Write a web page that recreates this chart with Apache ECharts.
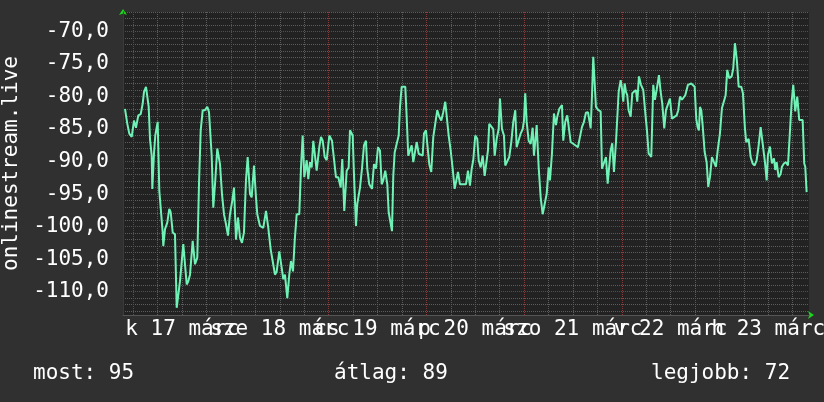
<!DOCTYPE html>
<html><head><meta charset="utf-8">
<script src="https://cdn.jsdelivr.net/npm/echarts@6/dist/echarts.min.js"></script>
<style>html,body{margin:0;padding:0;background:#303030;}#c{width:824px;height:402px;}</style>
</head><body><div id="c"></div>
<script>
// hours since 17 March 00:00, signal value
const samples = [
[-2.04,-81.9],[-1.47,-84.2],[-0.98,-85.7],[-0.39,-86.2],[0.17,-83.7],[0.66,-84.8],[1.23,-82.9],[1.82,-82.7],[2.31,-81.1],[2.63,-79.3],[3.12,-78.5],[3.44,-78.6],[3.78,-81.6],[4.10,-86.5],[4.52,-89.1],[4.67,-94.2],[5.08,-88.8],[5.40,-86.0],[5.99,-83.9],[6.39,-94.5],[6.80,-94.5],[7.22,-100.9],[7.37,-103.0],[7.79,-100.4],[8.35,-99.4],[8.84,-97.3],[9.19,-97.8],[9.68,-100.9],[10.24,-101.2],[10.66,-112.5],[11.05,-112.8],[11.47,-108.4],[12.28,-102.7],[12.70,-103.0],[13.12,-108.9],[13.51,-108.4],[13.93,-107.4],[14.59,-102.2],[15.16,-105.8],[15.72,-104.8],[16.14,-93.5],[16.56,-85.2],[17.05,-82.1],[17.61,-82.1],[18.18,-81.6],[18.60,-82.4],[19.26,-89.1],[19.65,-97.1],[20.14,-92.9],[20.63,-88.0],[21.05,-88.3],[21.30,-90.4],[21.79,-95.0],[22.28,-98.1],[22.77,-99.6],[23.26,-101.4],[23.75,-98.1],[24.32,-96.0],[24.74,-94.0],[25.23,-102.0],[25.72,-98.6],[26.21,-101.7],[26.70,-102.5],[27.19,-100.9],[27.68,-92.9],[28.10,-89.3],[28.67,-95.0],[29.08,-95.5],[29.65,-90.6],[30.14,-95.5],[30.46,-98.1],[31.12,-99.9],[31.93,-100.2],[32.60,-97.6],[33.16,-100.2],[33.75,-103.5],[34.24,-105.3],[34.81,-107.4],[35.23,-106.9],[35.86,-103.8],[36.45,-106.3],[36.85,-108.1],[37.26,-107.4],[37.83,-111.0],[38.32,-107.4],[38.74,-105.3],[39.23,-106.9],[39.65,-102.2],[40.14,-98.1],[40.78,-98.1],[41.20,-90.9],[41.61,-86.0],[42.01,-92.4],[42.60,-89.8],[42.99,-92.7],[43.41,-90.1],[43.82,-90.9],[44.22,-86.8],[45.05,-91.4],[45.69,-87.8],[46.11,-86.2],[46.53,-86.8],[47.02,-89.3],[47.51,-89.8],[48.15,-86.0],[48.81,-86.8],[49.30,-89.6],[49.79,-92.4],[50.36,-92.4],[50.95,-94.0],[51.34,-89.6],[51.83,-97.6],[52.42,-91.4],[52.91,-90.9],[53.23,-85.2],
[53.90,-86.0],[54.21,-91.9],[54.71,-99.9],[55.03,-96.5],[55.69,-94.0],[56.18,-91.1],[56.67,-87.5],[57.16,-86.8],[57.48,-91.1],[57.97,-93.5],[58.64,-94.2],[59.13,-90.4],[59.62,-91.1],[60.11,-87.8],[60.60,-88.3],[61.02,-93.5],[61.41,-92.9],[61.90,-91.4],[62.40,-93.5],[62.74,-97.8],[63.23,-98.1],[63.55,-100.7],[63.87,-92.2],[64.21,-88.6],[64.70,-87.3],[65.20,-86.0],[65.52,-81.6],[65.93,-78.5],[66.33,-78.4],[66.82,-78.5],[67.16,-83.1],[67.55,-89.1],[67.97,-89.3],[68.39,-87.5],[68.78,-90.1],[69.27,-90.1],[69.62,-87.0],[70.11,-88.8],[70.60,-89.1],[71.09,-89.1],[71.41,-85.7],[71.90,-85.2],[72.39,-85.5],[72.71,-90.4],[73.20,-91.6],[73.70,-86.2],[74.19,-86.5],[74.68,-82.1],[75.17,-83.1],[75.66,-83.7],[76.15,-82.4],[76.64,-80.8],[76.99,-80.8],[77.48,-86.0],[77.97,-88.3],[78.46,-91.1],[78.95,-94.2],[79.27,-94.0],[79.76,-91.6],[80.25,-93.5],[80.75,-93.5],[81.24,-93.2],[81.73,-93.5],[82.22,-91.4],[82.71,-93.7],[83.13,-91.1],[83.52,-89.8],[84.01,-86.0],[84.50,-86.5],[84.85,-89.8],[85.34,-90.9],[85.83,-89.1],[86.32,-92.2],[86.81,-92.4],[87.13,-88.3],[87.45,-84.2],[87.94,-84.4],[88.43,-85.0],[88.78,-89.1],[89.27,-86.5],[89.76,-85.0],[90.08,-80.3],[90.57,-85.0],[91.06,-86.0],[91.38,-90.6],[91.87,-90.9],[92.36,-89.3],[92.86,-87.0],[93.35,-83.9],[93.84,-82.1],[94.18,-87.8],[94.67,-87.5],[95.16,-85.7],[95.66,-85.0],[95.98,-83.7],[96.29,-79.5],[96.64,-83.9],[97.13,-86.8],[97.62,-87.3],[98.11,-84.8],[98.43,-89.1],[98.75,-89.3],[99.10,-84.4],[99.59,-90.9],[100.08,-95.5],[100.57,-98.1],[101.06,-98.1],[101.55,-95.0],[102.04,-90.9],[102.36,-92.9],[102.85,-88.8],[103.34,-82.6],[103.84,-84.4],[104.16,-83.1],[104.65,-81.9],[104.99,-82.2],[105.31,-81.3],[105.63,-86.8],[106.12,-83.9],[106.61,-82.9],[107.10,-82.7],[107.45,-87.0],[107.94,-87.3],[108.58,-87.5],[109.24,-87.8],[109.73,-86.2],[110.22,-84.7],[110.71,-83.9],[111.20,-82.5],[111.70,-82.4],
[112.36,-84.9],[112.68,-80.0],[113.00,-73.9],[113.42,-73.9],[113.66,-81.6],[114.23,-82.1],[114.82,-82.3],[115.14,-91.1],[115.63,-91.3],[116.12,-89.3],[116.54,-93.4],[116.86,-93.4],[117.27,-88.3],[117.67,-87.2],[118.08,-91.6],[118.58,-87.0],[118.90,-87.0],[119.24,-79.3],[119.73,-77.5],[120.05,-78.7],[120.37,-80.8],[120.71,-78.0],[121.03,-79.3],[121.35,-79.8],[121.69,-82.1],[122.19,-83.1],[122.58,-79.5],[123.00,-79.3],[123.49,-79.0],[123.81,-80.8],[124.23,-76.9],[124.72,-78.2],[125.28,-79.0],[125.87,-83.1],[126.19,-85.2],[126.61,-88.8],[127.25,-89.3],[127.74,-78.2],[128.15,-80.5],[128.57,-79.0],[129.14,-76.7],[129.56,-79.3],[129.95,-81.1],[130.44,-84.9],[130.86,-82.1],[131.35,-81.8],[131.84,-80.3],[132.33,-83.4],[132.82,-83.6],[133.49,-82.9],[133.88,-82.1],[134.30,-80.0],[134.79,-80.5],[135.21,-80.3],[135.60,-79.8],[136.26,-78.2],[137.07,-78.0],[137.56,-78.0],[137.91,-78.5],[138.30,-83.4],[138.64,-84.7],[138.96,-85.2],[139.21,-81.6],[139.53,-82.1],[139.87,-84.4],[140.36,-88.5],[140.85,-90.1],[141.25,-93.9],[141.67,-92.4],[142.16,-89.3],[142.65,-90.1],[143.14,-90.8],[143.56,-88.3],[144.12,-85.7],[144.61,-81.8],[145.10,-81.8],[145.52,-79.8],[145.92,-75.9],[146.41,-77.2],[147.00,-76.9],[147.39,-75.7],[147.81,-71.8],[148.30,-74.6],[148.72,-78.5],[149.36,-78.5],[149.77,-79.5],[150.26,-84.9],[150.58,-87.0],[151.17,-86.5],[151.66,-89.3],[152.15,-90.3],[152.65,-90.6],[153.14,-89.8],[153.63,-87.5],[154.12,-84.7],[154.61,-84.7],[155.18,-90.1],[155.60,-92.9],[155.91,-89.0],[156.40,-87.7],[156.89,-90.3],[157.39,-89.5],[157.71,-91.3],[158.05,-90.1],[158.54,-92.4],[159.03,-91.9],[159.35,-90.8],[159.84,-90.3],[160.34,-90.1],[160.83,-90.6],[161.32,-90.6],[161.74,-80.8],[162.13,-78.2],[162.62,-82.3],[163.11,-80.0],[163.60,-83.6],[164.09,-83.4],[164.44,-83.6],[164.83,-90.3],[165.08,-90.8],[165.42,-94.7]
];

const dayLabels = ["k 17 márc", "sze 18 márc", "cs 19 márc", "p 20 márc", "szo 21 márc", "v 22 márc", "h 23 márc"];
const axisTitle = "onlinestream.live";
const legendTexts = ["most: 95", "átlag: 89", "legjobb: 72"];

const xMin = -2.53, xMax = 166.0;     // hours
const labelShift = 12;                // day labels centred at noon
const yMin = -113.6, yMax = -67.0;
const FONT = "DejaVu Sans Mono";
const FS = 21;
const minorLine = { color: '#5c5c5c', type: [1, 1], width: 1 };
const majorLine = { color: '#883838', type: [1, 1], width: 1 };

const chart = echarts.init(document.getElementById('c'), null, { renderer: 'canvas' });
chart.setOption({
  backgroundColor: '#303030',
  animation: false,
  textStyle: { fontFamily: FONT },
  grid: { left: 123, right: 15, top: 12, bottom: 87, show: true, backgroundColor: '#222222', borderWidth: 0, containLabel: false, outerBoundsMode: 'none', z: 0 },
  xAxis: [
    { type: 'value', min: xMin, max: xMax, position: 'bottom', minInterval: 6, maxInterval: 6, z: 1,
      axisLine: { show: true, onZero: false, symbol: ['none', 'arrow'], symbolSize: [6, 6], symbolOffset: [0, 5], lineStyle: { color: '#1ed41e', width: 0 } },
      axisTick: { show: false }, axisLabel: { show: false },
      splitLine: { show: true, showMinLine: false, showMaxLine: false, lineStyle: minorLine } },
    { type: 'value', min: xMin, max: xMax, position: 'bottom', minInterval: 24, maxInterval: 24, z: 3,
      axisLine: { show: true, onZero: false, lineStyle: { color: '#555555', width: 1 } },
      axisTick: { show: false }, axisLabel: { show: false },
      splitLine: { show: true, showMinLine: false, showMaxLine: false, lineStyle: majorLine } },
    { type: 'value', min: xMin - labelShift, max: xMax - labelShift, position: 'bottom', minInterval: 24, maxInterval: 24, z: 3,
      axisLine: { show: false, onZero: false }, axisTick: { show: false }, splitLine: { show: false },
      axisLabel: { show: true, showMinLabel: false, showMaxLabel: false, hideOverlap: false, color: '#ffffff', fontFamily: FONT, fontSize: FS, margin: 4,
        formatter: function (v) { const i = v / 24; return (Number.isInteger(i) && dayLabels[i]) ? dayLabels[i] : ''; } } }
  ],
  yAxis: [
    { type: 'value', min: yMin, max: yMax, position: 'left', minInterval: 1, maxInterval: 1, z: 1,
      axisLine: { show: true, onZero: false, symbol: ['none', 'arrow'], symbolSize: [6, 6], symbolOffset: [0, 3], lineStyle: { color: '#1ed41e', width: 0 } },
      axisTick: { show: false }, axisLabel: { show: false },
      splitLine: { show: true, showMinLine: false, showMaxLine: true, lineStyle: minorLine } },
    { type: 'value', min: yMin, max: yMax, position: 'left', minInterval: 5, maxInterval: 5, z: 3,
      axisLine: { show: true, onZero: false, lineStyle: { color: '#3a3a3a', width: 1 } },
      axisTick: { show: false },
      axisLabel: { show: true, showMinLabel: false, showMaxLabel: false, color: '#ffffff', fontFamily: FONT, fontSize: FS, margin: 14,
        formatter: function (v) { return (Math.abs(v % 5) < 1e-9) ? v.toFixed(1).replace('.', ',') : ''; } },
      splitLine: { show: true, showMinLine: false, showMaxLine: false, lineStyle: majorLine },
      name: axisTitle, nameLocation: 'middle', nameRotate: 90, nameGap: 100,
      nameTextStyle: { color: '#ffffff', fontFamily: FONT, fontSize: FS } }
  ],
  series: [{
    type: 'line', xAxisIndex: 0, yAxisIndex: 0, data: samples,
    showSymbol: false, symbol: 'none', smooth: false, clip: true,
    lineStyle: { color: '#70f2b6', width: 2 }, z: 10
  }],
  graphic: [
    { type: 'text', left: 33, top: 363, style: { text: legendTexts[0], fill: '#ffffff', font: FS + 'px "DejaVu Sans Mono"' } },
    { type: 'text', left: 334, top: 363, style: { text: legendTexts[1], fill: '#ffffff', font: FS + 'px "DejaVu Sans Mono"' } },
    { type: 'text', left: 651, top: 363, style: { text: legendTexts[2], fill: '#ffffff', font: FS + 'px "DejaVu Sans Mono"' } }
  ]
});
</script>
</body></html>
